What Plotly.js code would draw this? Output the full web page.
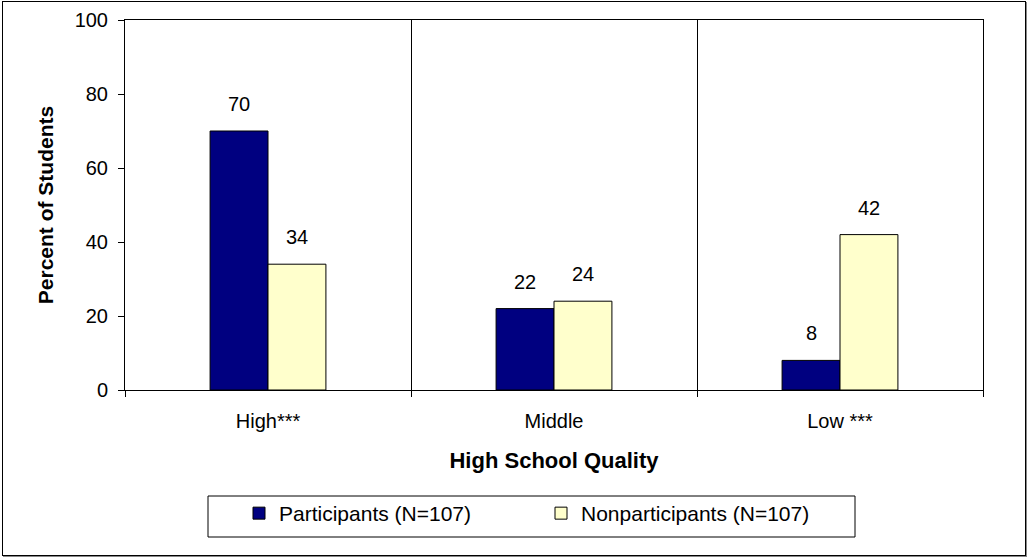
<!DOCTYPE html>
<html>
<head>
<meta charset="utf-8">
<script src="https://cdn.plot.ly/plotly-3.0.1.min.js"></script>
<style>
html,body{margin:0;padding:0;background:#fff;}
#wrap{position:relative;width:1027px;height:557px;}
#chart{width:1027px;height:557px;}
#frame{position:absolute;left:2px;top:1px;width:1022px;height:553px;border:1px solid #000;pointer-events:none;box-shadow:1px 1px 0 #888;}
</style>
</head>
<body>
<div id="wrap"><div id="chart"></div><div id="frame"></div></div>
<script>
const categories = ["High***", "Middle", "Low ***"];
const participants = [70, 22, 8];
const nonparticipants = [34, 24, 42];
const seriesNames = ["Participants (N=107)", "Nonparticipants (N=107)"];
const yTicks = [0, 20, 40, 60, 80, 100];

const FONT = "Arial, 'Liberation Sans', sans-serif";

const traces = [
  {type:"bar", x:categories, y:participants, name:seriesNames[0], legend:"legend",
   marker:{color:"#000080", line:{color:"#000", width:1}}, hoverinfo:"none"},
  {type:"bar", x:categories, y:nonparticipants, name:seriesNames[1], legend:"legend2",
   marker:{color:"#FFFFCC", line:{color:"#000", width:1}}, hoverinfo:"none"}
];

const annotations = [];
[participants, nonparticipants].forEach((vals, s) => {
  vals.forEach((v, i) => {
    annotations.push({x: categories[i], y: v, xref:"x", yref:"y", text: String(v),
      showarrow:false, yanchor:"middle", yshift:27, xshift: s === 0 ? -29 : 29,
      font:{family:FONT, size:20, color:"#000"}});
  });
});

const W = 1027, H = 557, L = 125, R = 44, T = 20, B = 167;
const pw = W - L - R, ph = H - T - B;
const px = v => (v - L) / pw;
const py = v => (H - B - v) / ph;

const legendBase = {orientation:"h", xanchor:"left", yanchor:"top",
  font:{family:FONT, size:21, color:"#000"}, bgcolor:"rgba(0,0,0,0)", borderwidth:0};

const layout = {
  width: W, height: H,
  margin:{l:L, r:R, t:T, b:B, pad:0},
  paper_bgcolor:"#fff", plot_bgcolor:"#fff",
  font:{family:FONT, size:20, color:"#000"},
  barmode:"group", bargap:0.595, bargroupgap:0,
  showlegend:true,
  legend:Object.assign({}, legendBase, {x:px(239), y:py(493)}),
  legend2:Object.assign({}, legendBase, {x:px(541), y:py(493)}),
  xaxis:{type:"category", tickson:"boundaries", ticks:"outside", ticklen:6, tickcolor:"#000",
    showgrid:true, gridcolor:"#000", gridwidth:1,
    showline:true, linecolor:"#000", linewidth:1, mirror:true,
    tickfont:{family:FONT, size:20}, ticklabelstandoff:13,
    title:{text:"<b>High School Quality</b>", font:{family:FONT, size:22}, standoff:21}},
  yaxis:{range:[0,100], tickvals:yTicks, ticks:"outside", ticklen:6, tickcolor:"#000",
    showgrid:false, zeroline:false,
    showline:true, linecolor:"#000", linewidth:1, mirror:true,
    tickfont:{family:FONT, size:20}, ticklabelstandoff:6,
    title:{text:"<b>Percent of Students</b>", font:{family:FONT, size:21}, standoff:15}},
  annotations: annotations,
  shapes:[{type:"rect", xref:"paper", yref:"paper", x0:px(208), x1:px(855), y0:py(537), y1:py(496),
    line:{color:"#000", width:1}, fillcolor:"rgba(0,0,0,0)"}]
};

Plotly.newPlot("chart", traces, layout, {staticPlot:true});
</script>
</body>
</html>
